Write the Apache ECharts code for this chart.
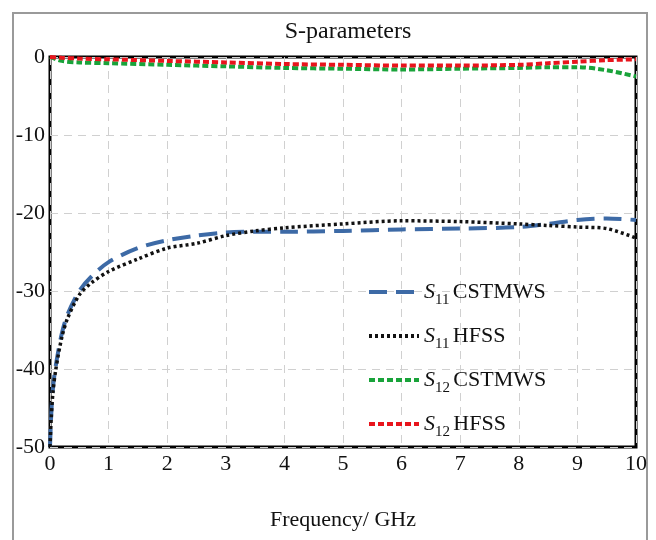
<!DOCTYPE html>
<html>
<head>
<meta charset="utf-8">
<script src="https://cdn.jsdelivr.net/npm/echarts@6/dist/echarts.min.js"></script>
<style>
  html, body { margin: 0; padding: 0; background: #fff; }
  #chart { width: 656px; height: 540px; }
</style>
</head>
<body>
<div id="chart"></div>
<script>
// 频率点 (GHz)
const freqS11 = [0, 0.02, 0.05, 0.1, 0.2, 0.3, 0.5, 0.7, 1, 1.5, 2, 2.5, 3, 3.5, 4, 5, 6, 7, 8, 8.5, 9, 9.5, 10]
const freqS12 = [0, 0.2, 0.5, 1, 2, 3, 4, 5, 6, 7, 8, 8.5, 9, 9.5, 10]

// S 参数 (dB)
const s11Cst = [-50, -46, -42.5, -39.5, -35.5, -33, -30, -28.2, -26.3, -24.5, -23.5, -22.9, -22.5, -22.4, -22.4, -22.3, -22.1, -22.0, -21.8, -21.4, -20.9, -20.7, -20.9]
const s11Hfss = [-50, -46.5, -43, -40, -36, -33.5, -30.5, -29, -27.5, -25.9, -24.5, -23.9, -22.9, -22.3, -21.9, -21.4, -21.0, -21.1, -21.4, -21.6, -21.8, -22.0, -23.2]
const s12Cst = [0, -0.5, -0.7, -0.8, -1.0, -1.2, -1.4, -1.5, -1.6, -1.5, -1.4, -1.3, -1.3, -1.7, -2.5]
const s12Hfss = [0, -0.1, -0.2, -0.3, -0.5, -0.7, -0.9, -1.0, -1.1, -1.1, -1.0, -0.8, -0.6, -0.4, -0.3]

const xTicks = ['0', '1', '2', '3', '4', '5', '6', '7', '8', '9', '10']
const seriesNames = ['S11 CSTMWS', 'S11 HFSS', 'S12 CSTMWS', 'S12 HFSS']

const FONT = 'Liberation Serif'

const pairs = (xs, ys) => xs.map((x, i) => [x, ys[i]])

const chart = echarts.init(document.getElementById('chart'))

const option = {
  backgroundColor: '#fff',
  animation: false,
  title: {
    text: 'S-parameters',
    left: 343,
    textAlign: 'center',
    top: 15,
    textStyle: { fontFamily: FONT, fontWeight: 'normal', fontSize: 24, color: '#111' }
  },
  graphic: [{
    type: 'rect',
    shape: { x: 13, y: 13, width: 634, height: 540 },
    style: { fill: 'none', stroke: '#9a9a9a', lineWidth: 2 },
    silent: true
  }],
  legend: {
    orient: 'vertical',
    left: 362,
    top: 276,
    itemWidth: 50,
    itemHeight: 12,
    itemGap: 17,
    data: seriesNames,
    // 隐藏图例中的圆点，只保留线
    itemStyle: { color: 'rgba(0,0,0,0)', borderWidth: 0, opacity: 0 },
    lineStyle: { width: 4 },
    formatter: name => {
      const parts = name.split(' ')
      return '{s|S}{sub|' + parts[0].slice(1) + '} {t|' + parts[1] + '}'
    },
    textStyle: {
      color: '#111',
      rich: {
        s: { fontFamily: FONT, fontStyle: 'italic', fontSize: 22, lineHeight: 32, color: '#111' },
        sub: { fontFamily: FONT, fontSize: 15, lineHeight: 32, verticalAlign: 'bottom', color: '#111' },
        t: { fontFamily: FONT, fontSize: 22, lineHeight: 32, color: '#111' }
      }
    }
  },
  grid: {
    left: 50,
    right: 20,
    top: 57,
    bottom: 93,
    show: true,
    borderColor: '#000',
    borderWidth: 3
  },
  xAxis: {
    type: 'value',
    min: 0,
    max: 10,
    interval: 1,
    name: 'Frequency/ GHz',
    nameLocation: 'middle',
    nameGap: 62,
    nameTextStyle: { fontFamily: FONT, fontSize: 22, color: '#111' },
    axisLine: { show: false },
    axisTick: { show: false },
    axisLabel: {
      fontFamily: FONT, fontSize: 22, color: '#111', margin: 6,
      formatter: v => xTicks[Math.round(v)]
    },
    splitLine: { show: true, lineStyle: { color: '#d0d0d0', type: [8, 6], width: 1 } }
  },
  yAxis: {
    type: 'value',
    min: -50,
    max: 0,
    interval: 10,
    axisLine: { show: false },
    axisTick: { show: false },
    axisLabel: { fontFamily: FONT, fontSize: 22, color: '#111', margin: 5 },
    splitLine: { show: true, lineStyle: { color: '#d0d0d0', type: [8, 6], width: 1 } }
  },
  series: [
    {
      name: seriesNames[0],
      type: 'line',
      data: pairs(freqS11, s11Cst),
      smooth: 0.3,
      symbol: 'none',
      z: 3,
      itemStyle: { color: '#3d6aa6' },
      lineStyle: { color: '#3d6aa6', width: 4, type: [18, 9] }
    },
    {
      name: seriesNames[1],
      type: 'line',
      data: pairs(freqS11, s11Hfss),
      smooth: 0.3,
      symbol: 'none',
      z: 4,
      itemStyle: { color: '#111' },
      lineStyle: { color: '#111', width: 3.5, type: [3, 3] }
    },
    {
      name: seriesNames[2],
      type: 'line',
      data: pairs(freqS12, s12Cst),
      smooth: 0.3,
      symbol: 'none',
      z: 3,
      itemStyle: { color: '#19a33a' },
      lineStyle: { color: '#19a33a', width: 4, type: [6, 3] }
    },
    {
      name: seriesNames[3],
      type: 'line',
      data: pairs(freqS12, s12Hfss),
      smooth: 0.3,
      symbol: 'none',
      z: 4,
      itemStyle: { color: '#e8141c' },
      lineStyle: { color: '#e8141c', width: 4, type: [6, 3] }
    }
  ]
}

chart.setOption(option)
</script>
</body>
</html>
